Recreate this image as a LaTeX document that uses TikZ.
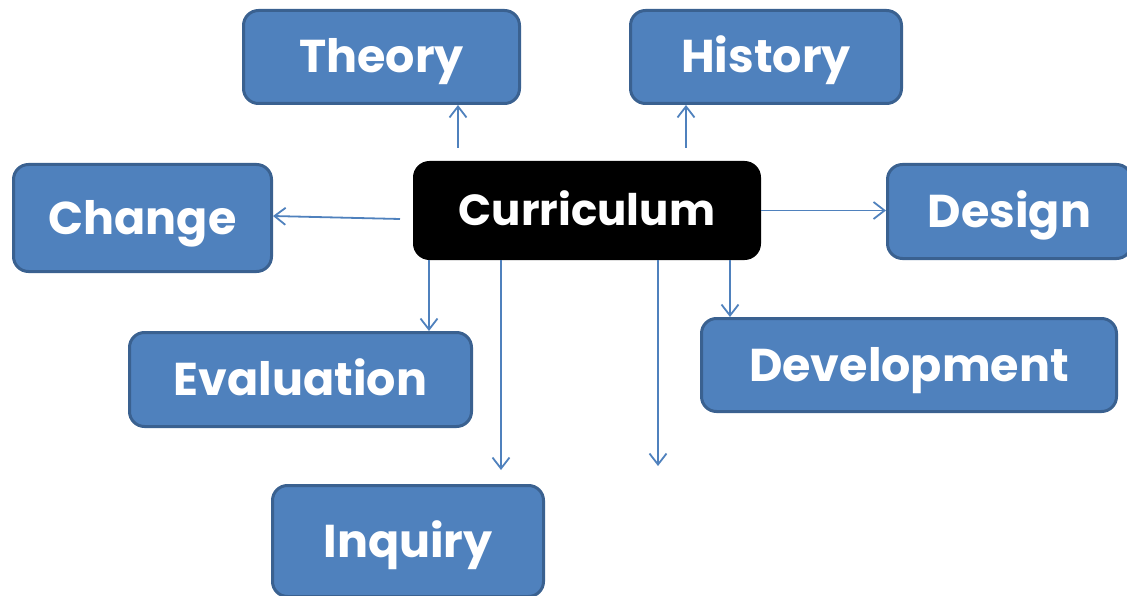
\documentclass[tikz,border=0pt]{standalone}
\usepackage{fontspec}
\setmainfont{Poppins}
\usetikzlibrary{arrows.meta,calc}
\definecolor{boxblue}{HTML}{4F81BD}
\definecolor{boxedge}{HTML}{3A6190}
\definecolor{linkblue}{HTML}{4F81BD}
\begin{document}
\begin{tikzpicture}[x=1pt,y=-1pt,
  topic/.style={draw=boxedge,line width=3pt,fill=boxblue,rounded corners=15pt,
    text=white,font=\fontsize{46}{52}\selectfont\bfseries,inner sep=0pt,
    text height=32pt,text depth=0pt},
  core/.style={topic,draw=black,fill=black,font=\fontsize{43.5}{50}\selectfont\bfseries,text height=30pt},
  link/.style={draw=linkblue,line width=1.8pt,-{Straight Barb[length=11pt,width=17pt,line width=1.8pt]}}]
\useasboundingbox (0,0) rectangle (1127,596);
\node[topic,minimum width=276pt,minimum height=93pt] (the) at (381.5,57) {Theory};
\node[topic,minimum width=271pt,minimum height=93pt] (his) at (766,57) {History};
\node[topic,minimum width=258pt,minimum height=107pt] (cha) at (142.5,218) {Change};
\node[core,minimum width=345pt,minimum height=96pt] (cur) at (587,210.5) {Curriculum};
\node[topic,minimum width=244pt,minimum height=94pt] (des) at (1009.5,211.5) {Design};
\node[topic,minimum width=342pt,minimum height=94pt] (eva) at (300.5,379.5) {Evaluation};
\node[topic,minimum width=415pt,minimum height=93pt] (dev) at (909,365) {Development};
\node[topic,minimum width=271pt,minimum height=111pt] (inq) at (408,541) {Inquiry};
\coordinate (xt) at (458,148);
\coordinate (xh) at (686,148);
\coordinate (ce) at (400,219);
\coordinate (ct) at (0,216);
\coordinate (xe) at (429,0);
\coordinate (xi) at (501,470);
\coordinate (xu) at (658,466);
\coordinate (xd) at (730,0);
\draw[link] (xt) -- (the.south -| xt);
\draw[link] (xh) -- (his.south -| xh);
\draw[link] (ce) -- (cha.east |- ct);
\draw[link] (cur.east) -- (des.west |- cur.east);
\draw[link] (cur.south -| xe) -- (eva.north -| xe);
\draw[link] (cur.south -| xi) -- (xi);
\draw[link] (cur.south -| xu) -- (xu);
\draw[link] (cur.south -| xd) -- (dev.north -| xd);
\end{tikzpicture}
\end{document}
